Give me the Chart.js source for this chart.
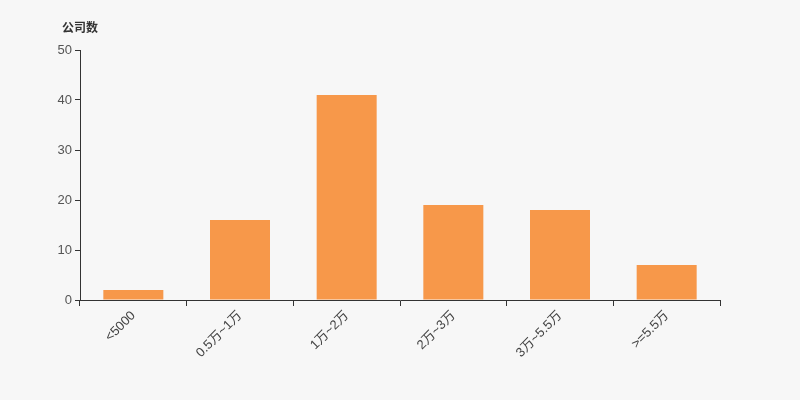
<!DOCTYPE html>
<html>
<head>
<meta charset="utf-8">
<script src="https://cdn.jsdelivr.net/npm/chart.js@4"></script>
<style>
  html, body { margin: 0; padding: 0; background: #f7f7f7; }
  #wrap { width: 800px; height: 400px; }
</style>
</head>
<body>
<div id="wrap"><canvas id="grafica"></canvas></div>
<script>
// datos
const categorias = ["<5000", "0.5万~1万", "1万~2万", "2万~3万", "3万~5.5万", ">=5.5万"];
const empresas = [2, 16, 41, 19, 18, 7];
const ticksY = [0, 10, 20, 30, 40, 50];
const tituloEje = "公司数";

const fuente = "'Liberation Sans', Arial, 'Noto Sans CJK SC', sans-serif";

// titulo arriba a la izquierda
const tituloPlugin = {
  id: "tituloEje",
  afterDraw(chart) {
    const c = chart.ctx;
    const area = chart.chartArea;
    c.save();
    c.fillStyle = "#333";
    c.font = "bold 12px " + fuente;
    c.textAlign = "left";
    c.textBaseline = "middle";
    c.fillText(tituloEje, area.left - 18, area.top - 21);
    c.restore();
  },
};

const ctx = document.getElementById("grafica");
new Chart(ctx, {
  type: "bar",
  data: {
    labels: categorias,
    datasets: [
      {
        label: tituloEje,
        data: empresas,
        backgroundColor: "#f7984a",
        barPercentage: 0.5625,
        categoryPercentage: 1,
      },
    ],
  },
  options: {
    responsive: true,
    maintainAspectRatio: false,
    animation: false,
    layout: { padding: { top: 50, right: 80, left: 0, bottom: 0 } },
    plugins: {
      legend: { display: false },
      tooltip: { enabled: false },
    },
    scales: {
      x: {
        grid: {
          drawOnChartArea: false,
          drawTicks: true,
          tickLength: 6,
          color: "#333",
        },
        border: { color: "#333", width: 1 },
        ticks: {
          color: "#444",
          font: { size: 13, family: fuente },
          maxRotation: 45,
          minRotation: 45,
          autoSkip: false,
          padding: 2,
        },
        afterFit(scale) {
          scale.height = 100;
        },
      },
      y: {
        min: 0,
        max: 50,
        afterBuildTicks(scale) {
          scale.ticks = ticksY.map((v) => ({ value: v }));
        },
        grid: {
          drawOnChartArea: false,
          drawTicks: true,
          tickLength: 5,
          color: "#333",
        },
        border: { color: "#333", width: 1 },
        ticks: {
          color: "#555",
          font: { size: 13, family: fuente },
          padding: 3,
        },
        afterFit(scale) {
          scale.width = 80;
        },
      },
    },
  },
  plugins: [tituloPlugin],
});
</script>
</body>
</html>
